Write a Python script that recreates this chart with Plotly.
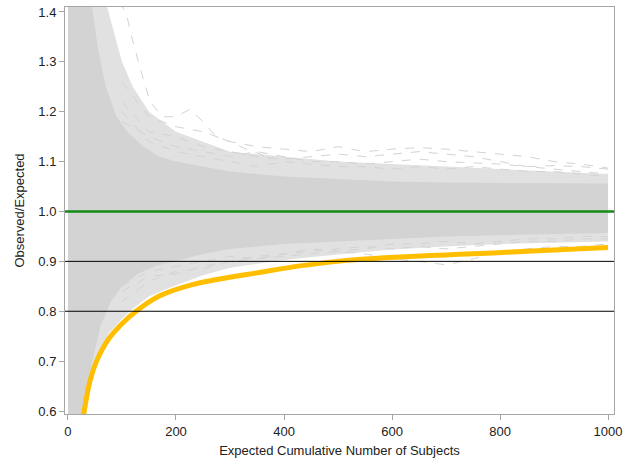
import plotly.graph_objects as go

# ---------------- data ----------------
# Dense core of the simulated trajectories (upper / lower envelope)
core_x = [0, 40, 55, 70, 90, 110, 140, 170, 200, 250, 300, 400, 500, 600, 700, 800, 900, 1000]
core_hi = [1.45, 1.45, 1.33, 1.25, 1.19, 1.16, 1.13, 1.11, 1.10, 1.09, 1.08, 1.07, 1.065, 1.06, 1.058, 1.057, 1.057, 1.056]
core_lo_x = [0, 25, 35, 45, 60, 80, 100, 130, 160, 200, 250, 300, 400, 500, 600, 700, 800, 900, 1000]
core_lo = [0.55, 0.55, 0.62, 0.70, 0.77, 0.82, 0.85, 0.875, 0.89, 0.90, 0.915, 0.925, 0.935, 0.94, 0.945, 0.95, 0.953, 0.955, 0.957]

# Sparser outer zone of the trajectories
outer_x = [0, 60, 70, 85, 100, 120, 150, 200, 250, 300, 400, 500, 600, 700, 800, 900, 1000]
outer_hi = [1.45, 1.45, 1.42, 1.36, 1.30, 1.25, 1.20, 1.16, 1.14, 1.12, 1.11, 1.10, 1.095, 1.09, 1.085, 1.08, 1.075]
outer_lo_x = [0, 28, 40, 55, 75, 100, 120, 150, 200, 250, 300, 400, 500, 600, 700, 800, 900, 1000]
outer_lo = [0.55, 0.55, 0.64, 0.70, 0.755, 0.785, 0.805, 0.83, 0.852, 0.872, 0.887, 0.903, 0.914, 0.924, 0.93, 0.935, 0.938, 0.94]

# Individual visible trajectories at the edges of the cloud
traj_x = [100, 150, 200, 250, 300, 350, 400, 450, 500, 550, 600, 650, 700, 750, 800, 850, 900, 950, 1000]
traj_u1 = [1.26, 1.19, 1.17, 1.16, 1.14, 1.13, 1.125, 1.12, 1.13, 1.12, 1.125, 1.128, 1.125, 1.12, 1.115, 1.11, 1.10, 1.095, 1.087]
traj_u2 = [1.22, 1.16, 1.15, 1.13, 1.12, 1.11, 1.105, 1.11, 1.115, 1.11, 1.115, 1.12, 1.115, 1.11, 1.10, 1.09, 1.085, 1.08, 1.075]
traj_u3 = [1.18, 1.15, 1.13, 1.12, 1.11, 1.12, 1.11, 1.10, 1.10, 1.095, 1.10, 1.105, 1.10, 1.098, 1.095, 1.09, 1.092, 1.09, 1.085]
traj_u4 = [1.20, 1.14, 1.12, 1.11, 1.10, 1.09, 1.10, 1.095, 1.09, 1.09, 1.085, 1.09, 1.085, 1.09, 1.085, 1.08, 1.08, 1.075, 1.07]
traj_l1 = [0.82, 0.86, 0.88, 0.885, 0.90, 0.905, 0.91, 0.915, 0.92, 0.915, 0.905, 0.90, 0.893, 0.905, 0.92, 0.925, 0.93, 0.93, 0.935]
traj_l2 = [0.84, 0.87, 0.875, 0.89, 0.90, 0.91, 0.915, 0.92, 0.925, 0.93, 0.925, 0.93, 0.925, 0.93, 0.935, 0.94, 0.94, 0.945, 0.945]
traj_l3 = [0.85, 0.88, 0.89, 0.90, 0.91, 0.905, 0.915, 0.925, 0.92, 0.925, 0.935, 0.935, 0.94, 0.935, 0.94, 0.945, 0.945, 0.95, 0.95]
outlier_x = [95, 108, 118, 133, 152, 175, 200, 226, 250, 275, 300, 330, 370]
outlier_y = [1.42, 1.397, 1.35, 1.29, 1.22, 1.19, 1.19, 1.205, 1.18, 1.15, 1.14, 1.125, 1.11]

# Lower boundary curve (orange)
bound_x = [25, 30, 40, 53, 75, 100, 126, 170, 232, 278, 350, 430, 516, 578, 615, 700, 788, 900, 1000]
bound_y = [0.57, 0.60, 0.657, 0.70, 0.744, 0.775, 0.80, 0.831, 0.854, 0.864, 0.877, 0.891, 0.902, 0.9067, 0.909, 0.913, 0.917, 0.923, 0.928]

ref_black = [0.8, 0.9]
ref_green = [1.0]

x_ticks = [0, 200, 400, 600, 800, 1000]
y_ticks = [0.6, 0.7, 0.8, 0.9, 1.0, 1.1, 1.2, 1.3, 1.4]

GRAY = "#d3d3d3"

fig = go.Figure()


def band(xh, yh, xl, yl, color):
    fig.add_trace(go.Scatter(
        x=list(xh) + list(xl)[::-1],
        y=list(yh) + list(yl)[::-1],
        fill="toself", fillcolor=color, mode="lines",
        line=dict(width=0, color=color), hoverinfo="skip", showlegend=False))


band(outer_x, outer_hi, outer_lo_x, outer_lo, "#e1e1e1")
band(core_x, core_hi, core_lo_x, core_lo, GRAY)

for ys in [traj_u1, traj_u2, traj_u3, traj_u4, traj_l1, traj_l2, traj_l3]:
    fig.add_trace(go.Scatter(x=traj_x, y=ys, mode="lines",
                             line=dict(color=GRAY, width=1, dash="dash"),
                             showlegend=False, hoverinfo="skip"))
fig.add_trace(go.Scatter(x=outlier_x, y=outlier_y, mode="lines",
                         line=dict(color=GRAY, width=1, dash="dash"),
                         showlegend=False, hoverinfo="skip"))

for yv in ref_black:
    fig.add_hline(y=yv, line=dict(color="black", width=1))
for yv in ref_green:
    fig.add_hline(y=yv, line=dict(color="#138a13", width=2.5))

fig.add_trace(go.Scatter(x=bound_x, y=bound_y, mode="lines",
                         line=dict(color="#FFBF00", width=5, shape="spline"),
                         showlegend=False, hoverinfo="skip"))

FONT = dict(family="Liberation Sans", size=13, color="#222")
axis_common = dict(showline=True, mirror=True, linecolor="#a6a6a6", linewidth=1,
                   ticks="outside", tickcolor="#a6a6a6", ticklen=5, showgrid=False,
                   zeroline=False, automargin=False, tickfont=FONT)

fig.update_layout(
    width=623, height=463,
    margin=dict(l=65, r=9, t=7, b=49, autoexpand=False),
    plot_bgcolor="white", paper_bgcolor="white",
    showlegend=False,
    xaxis=dict(range=[-5.5, 1011], tickvals=x_ticks,
               title=dict(text="Expected Cumulative Number of Subjects", standoff=8, font=FONT),
               **axis_common),
    yaxis=dict(range=[0.594, 1.41], tickvals=y_ticks, tickformat=".1f",
               title=dict(text="Observed/Expected", standoff=10, font=FONT),
               **axis_common),
)

fig.write_html("out.html", config={"displayModeBar": False},
               post_script="document.body.style.margin='0';document.body.style.overflow='hidden';")
